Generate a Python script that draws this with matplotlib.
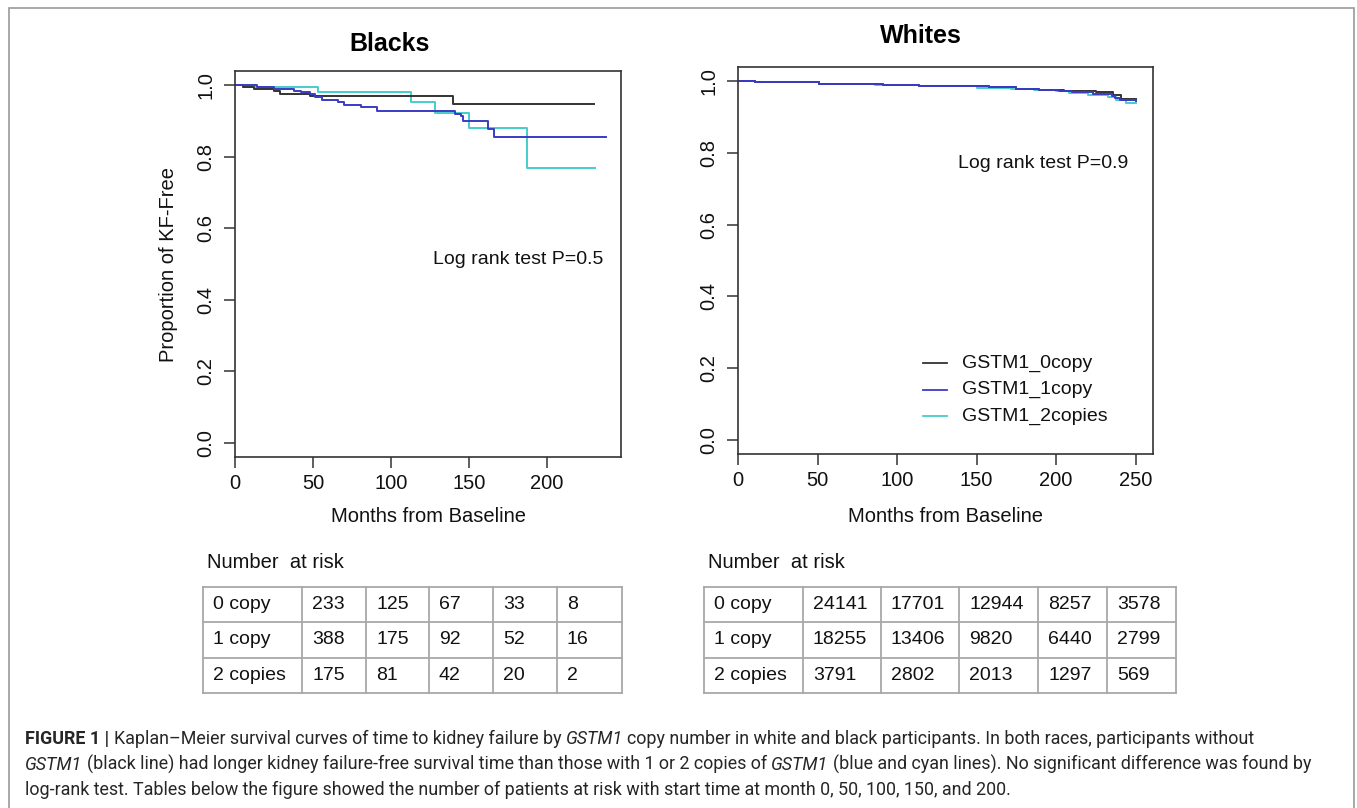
import matplotlib.pyplot as plt
from matplotlib.lines import Line2D
from matplotlib.patches import Rectangle
from matplotlib.font_manager import FontProperties
import numpy as np

W, H = 1357, 808

# Kaplan-Meier curves, Blacks (months, survival)
b0_t = [0, 5, 12, 25, 29, 48, 140, 230]
b0_s = [1.0, 0.995, 0.99, 0.985, 0.977, 0.97, 0.947, 0.947]
b1_t = [0, 14, 25, 38, 42, 48, 51, 56, 66, 70, 81, 91, 141, 145, 146, 162, 166, 238]
b1_s = [1.0, 0.995, 0.99, 0.985, 0.98, 0.975, 0.968, 0.96, 0.952, 0.945, 0.938, 0.928, 0.92, 0.913, 0.90, 0.877, 0.855, 0.855]
b2_t = [0, 5, 53, 113, 128, 150, 187, 231]
b2_s = [1.0, 0.995, 0.98, 0.953, 0.922, 0.88, 0.77, 0.77]

# Kaplan-Meier curves, Whites
w0_t = [0, 11, 51, 91, 114, 158, 175, 189, 205, 225, 236, 241, 250]
w0_s = [1.0, 0.997, 0.993, 0.99, 0.987, 0.983, 0.98, 0.977, 0.974, 0.97, 0.962, 0.952, 0.952]
w1_t = [0, 11, 51, 91, 114, 158, 175, 189, 202, 210, 223, 235, 237, 240, 250]
w1_s = [1.0, 0.997, 0.993, 0.99, 0.987, 0.983, 0.98, 0.977, 0.973, 0.97, 0.965, 0.96, 0.953, 0.948, 0.945]
w2_t = [0, 11, 51, 86, 114, 150, 172, 186, 200, 208, 220, 233, 238, 244, 250]
w2_s = [1.0, 0.997, 0.993, 0.99, 0.986, 0.982, 0.979, 0.976, 0.972, 0.968, 0.963, 0.957, 0.948, 0.94, 0.94]

series_names = ["GSTM1_0copy", "GSTM1_1copy", "GSTM1_2copies"]
series_colors = ["#333333", "#3b3bc4", "#45cccc"]
draw_order = [2, 0, 1]  # cyan under, blue on top

x_ticks_b = [0, 50, 100, 150, 200]
x_ticks_w = [0, 50, 100, 150, 200, 250]
y_ticks = [0.0, 0.2, 0.4, 0.6, 0.8, 1.0]
y_tick_labels = ["0.0", "0.2", "0.4", "0.6", "0.8", "1.0"]

risk_rows = ["0 copy", "1 copy", "2 copies"]
risk_blacks = [[233, 125, 67, 33, 8], [388, 175, 92, 52, 16], [175, 81, 42, 20, 2]]
risk_whites = [[24141, 17701, 12944, 8257, 3578],
               [18255, 13406, 9820, 6440, 2799],
               [3791, 2802, 2013, 1297, 569]]

caption = [
    [("FIGURE 1 | ", "bold", "normal"),
     ("Kaplan\u2013Meier survival curves of time to kidney failure by ", "normal", "normal"),
     ("GSTM1", "normal", "italic"),
     (" copy number in white and black participants. In both races, participants without", "normal", "normal")],
    [("GSTM1", "normal", "italic"),
     (" (black line) had longer kidney failure-free survival time than those with 1 or 2 copies of ", "normal", "normal"),
     ("GSTM1", "normal", "italic"),
     (" (blue and cyan lines). No significant difference was found by", "normal", "normal")],
    [("log-rank test. Tables below the figure showed the number of patients at risk with start time at month 0, 50, 100, 150, and 200.", "normal", "normal")],
]

plt.rcParams['font.family'] = ['Liberation Sans', 'DejaVu Sans']
fig = plt.figure(figsize=(W / 100, H / 100), dpi=100)


def rect(l, t, r, b):
    return [l / W, 1 - b / H, (r - l) / W, (b - t) / H]


def fx(x):
    return x / W


def fy(y):
    return 1 - y / H


# outer frame
fig.add_artist(Rectangle((fx(9), fy(830)), fx(1354) - fx(9), fy(8) - fy(830),
                         transform=fig.transFigure, fill=False, ec="#9a9a9a", lw=1.2))


def km_panel(box, curves, xmax, xticks):
    ax = fig.add_axes(rect(*box))
    for k in draw_order:
        t, s = curves[k]
        ax.step(t, s, where='post', color=series_colors[k], lw=1.4)
    ax.set_xlim(0, xmax)
    ax.set_ylim(-0.04, 1.04)
    ax.set_xticks(xticks)
    ax.set_yticks(y_ticks)
    ax.set_yticklabels(y_tick_labels)
    ax.tick_params(direction='out', length=8, width=1.1, color='#333333',
                   labelsize=14.5, labelcolor='#111111')
    ax.tick_params(axis='x', pad=4)
    ax.tick_params(axis='y', pad=6)
    for lbl in ax.get_yticklabels():
        lbl.set_rotation(90)
        lbl.set_va('center')
    for sp in ax.spines.values():
        sp.set_color('#333333')
        sp.set_linewidth(1.2)
    return ax


km_panel((235, 71, 621, 457), [(b0_t, b0_s), (b1_t, b1_s), (b2_t, b2_s)], 247.5, x_ticks_b)
km_panel((738, 67, 1153, 454), [(w0_t, w0_s), (w1_t, w1_s), (w2_t, w2_s)], 261, x_ticks_w)

fig.text(fx(390), fy(44), "Blacks", fontsize=18, fontweight='bold', ha='center', va='center')
fig.text(fx(921), fy(36), "Whites", fontsize=18, fontweight='bold', ha='center', va='center')
fig.text(fx(428), fy(516), "Months from Baseline", fontsize=14.5, ha='center', va='center', color='#111111')
fig.text(fx(946), fy(516), "Months from Baseline", fontsize=14.5, ha='center', va='center', color='#111111')
fig.text(fx(168), fy(264), "Proportion of KF-Free", fontsize=14.5, rotation=90,
         ha='center', va='center', color='#111111')
fig.text(fx(433), fy(260), "Log rank test P=0.5", fontsize=14, ha='left', va='center', color='#111111')
fig.text(fx(958), fy(163), "Log rank test P=0.9", fontsize=14, ha='left', va='center', color='#111111')

# legend (Whites panel)
for i, (name, c) in enumerate(zip(series_names, series_colors)):
    y = 363 + i * 26.5
    fig.add_artist(Line2D([fx(923), fx(947)], [fy(y), fy(y)], transform=fig.transFigure, color=c, lw=1.3))
    fig.text(fx(962), fy(y), name, fontsize=14, ha='left', va='center', color='#111111')


def risk_table(left, top, col_edges, values):
    bottom = 693
    row_edges = np.linspace(top, bottom, len(risk_rows) + 1)
    for y in row_edges:
        fig.add_artist(Line2D([fx(col_edges[0]), fx(col_edges[-1])], [fy(y), fy(y)],
                              transform=fig.transFigure, color='#a8a8a8', lw=1.3))
    for x in col_edges:
        fig.add_artist(Line2D([fx(x), fx(x)], [fy(top), fy(bottom)],
                              transform=fig.transFigure, color='#a8a8a8', lw=1.3))
    for i, (name, vals) in enumerate(zip(risk_rows, values)):
        yc = (row_edges[i] + row_edges[i + 1]) / 2
        cells = [name] + [str(v) for v in vals]
        for j, txt in enumerate(cells):
            fig.text(fx(col_edges[j] + 10), fy(yc), txt, fontsize=14, ha='left', va='center', color='#111111')
    fig.text(fx(left + 4), fy(563), "Number  at risk", fontsize=14.5, ha='left', va='center', color='#111111')


risk_table(203, 587, [203, 302, 366, 429, 493, 557, 622], risk_blacks)
risk_table(704, 587, [704, 803, 881, 959, 1038, 1107, 1176], risk_whites)

# caption with mixed bold / italic pieces
renderer = fig.canvas.get_renderer()
cap_family = ['Roboto', 'DejaVu Sans']
cap_size = 12.9


def text_width(s, fp):
    core = s.strip(' ')
    w = renderer.get_text_width_height_descent(core, fp, ismath=False)[0] if core else 0
    sp = (renderer.get_text_width_height_descent("a a", fp, ismath=False)[0]
          - renderer.get_text_width_height_descent("aa", fp, ismath=False)[0])
    lead = len(s) - len(s.lstrip(' '))
    trail = len(s) - len(s.rstrip(' '))
    return w, sp, lead, trail


for li, line in enumerate(caption):
    x = 25
    y = 744 + li * 25.5
    for txt, weight, style in line:
        fp = FontProperties(family=cap_family, size=cap_size, weight=weight, style=style)
        w, sp, lead, trail = text_width(txt, fp)
        x += lead * sp
        fig.text(fx(x), fy(y), txt.strip(' '), fontproperties=fp, ha='left', va='baseline', color='#262626')
        x += w + trail * sp

fig.savefig("out.png", dpi=100)
